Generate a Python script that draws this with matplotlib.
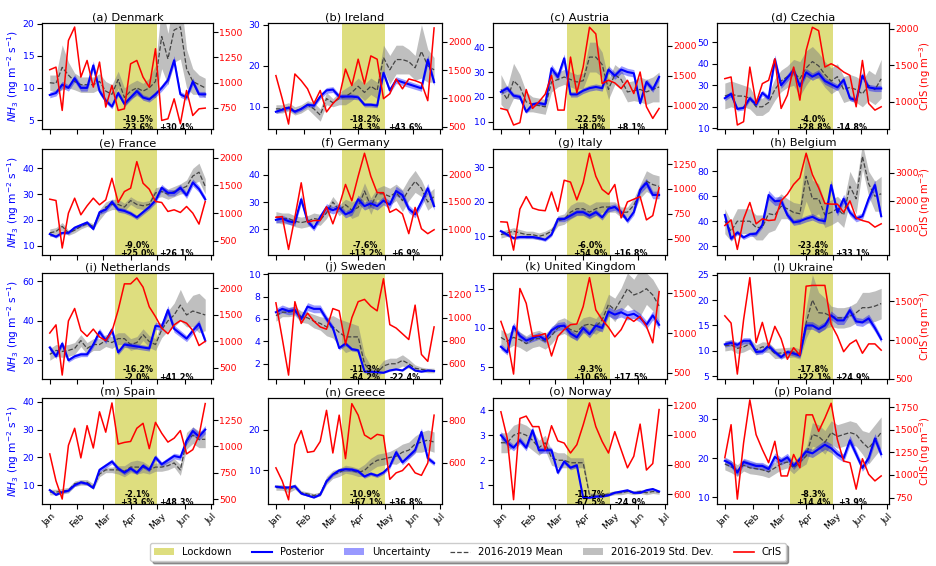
import numpy as np
import pandas as pd
import matplotlib
matplotlib.use('Agg')
import matplotlib.pyplot as plt
import matplotlib.dates as mdates
import matplotlib.transforms as mtransforms
from matplotlib.patches import Patch
from matplotlib.lines import Line2D

# weekly time axis, Jan-Jun 2020
weeks = pd.date_range('2020-01-01', periods=26, freq='7D')
lockdown_start = pd.Timestamp('2020-03-14')
lockdown_end = pd.Timestamp('2020-05-01')

countries = ['Denmark', 'Ireland', 'Austria', 'Czechia',
             'France', 'Germany', 'Italy', 'Belgium',
             'Netherlands', 'Sweden', 'United Kingdom', 'Ukraine',
             'Spain', 'Greece', 'Norway', 'Poland']
letters = 'abcdefghijklmnop'

# posterior NH3 emissions (ng m-2 s-1)
posterior = {
    'Denmark': [8.9, 9.2, 10.5, 10.0, 11.5, 10.0, 10.0, 13.5, 9.5, 8.0, 7.1, 9.2, 7.5, 8.5, 9.5, 8.5, 8.2, 9.0, 10.0, 11.2, 14.3, 9.0, 8.5, 11.0, 9.0, 9.0],
    'Ireland': [8.8, 9.3, 9.8, 8.8, 9.5, 10.5, 10.3, 12.5, 14.0, 14.2, 12.5, 12.5, 12.5, 12.3, 10.5, 10.5, 10.3, 18.3, 14.0, 16.5, 16.0, 15.5, 15.0, 14.5, 21.5, 16.0],
    'Austria': [22, 23.5, 20.5, 20, 14, 17, 17.5, 17, 31.5, 28, 35.5, 21, 21, 22.5, 23.5, 24, 23.5, 31, 28.5, 31, 30, 29.5, 17.5, 26, 23, 28],
    'Czechia': [24, 26, 19, 19.5, 24, 21, 26.5, 24, 42, 30, 33.5, 37, 29.5, 36, 34, 35.5, 32, 30.5, 29, 32.5, 24, 23, 34.5, 29, 28.5, 28.5],
    'France': [14.5, 13.5, 15, 15, 17, 18, 19, 16.5, 23, 24, 27, 24, 23.5, 22.5, 21, 23, 25, 27.5, 32.5, 30.5, 30.5, 32.5, 29.5, 34.5, 32, 28],
    'Germany': [23.5, 24, 23, 22.5, 31, 23, 20.5, 24.5, 28, 27, 28, 25.5, 26.5, 31, 28.5, 29.5, 28.5, 30.5, 29, 34, 32.5, 27.5, 25.5, 30, 35, 28.5],
    'Italy': [11.5, 10.5, 9.5, 9.8, 9.8, 9.8, 9.5, 9.0, 10.5, 15, 15, 16, 17, 17, 16, 17, 15.5, 18, 18.5, 17, 14.5, 17, 23.5, 25.5, 22, 22],
    'Belgium': [45, 26, 31, 27, 29.5, 30, 37, 61, 56, 56.5, 45, 39, 40, 42, 43.5, 41, 40, 69, 47, 58, 47, 42, 44, 58, 69, 44],
    'Netherlands': [26.5, 22, 28.5, 20, 22, 23, 23, 28, 34.5, 30, 35.5, 24, 28, 27.5, 27, 26.5, 26, 37.5, 37, 45.5, 36, 33.5, 31, 35, 38.5, 30],
    'Sweden': [6.6, 6.9, 6.7, 6.8, 6.0, 7.1, 6.9, 6.9, 6.0, 5.2, 3.4, 3.8, 3.3, 3.2, 1.3, 1.3, 1.25, 1.2, 1.4, 1.5, 1.4, 1.8, 1.4, 1.3, 1.4, 1.35],
    'United Kingdom': [7.6, 6.9, 10.2, 9.0, 8.4, 8.7, 9.0, 8.5, 9.7, 10.2, 10.3, 9.3, 8.8, 10.0, 9.2, 10.3, 10.0, 12.1, 11.7, 12.0, 11.6, 11.8, 11.3, 10.4, 11.6, 10.4],
    'Ukraine': [11.3, 11.6, 11.2, 12, 12, 9.8, 9.9, 11, 9.8, 8.8, 9.8, 9.5, 9.1, 15, 15, 14.3, 15, 17, 16, 16, 18, 15.8, 15.6, 16.4, 14.5, 12.3],
    'Spain': [8.2, 6.5, 7.5, 8, 10, 11, 10.5, 9, 15.5, 17, 18.5, 16, 14.5, 16, 14.5, 17, 15.5, 20, 17.5, 19, 20.5, 20, 26, 29.5, 27.5, 30],
    'Greece': [6, 5.8, 5.8, 6.1, 4.3, 3.8, 3.3, 4.0, 7.3, 9, 10, 10.3, 10.2, 9.8, 8.5, 9.2, 8.7, 9.5, 11, 14.5, 12, 13.5, 15, 19.5, 13, 11.8],
    'Norway': [3.0, 2.7, 2.5, 2.8, 2.5, 3.2, 2.4, 2.4, 2.4, 1.5, 1.95, 1.7, 1.8, 0.5, 0.5, 0.55, 0.55, 0.6, 0.7, 0.75, 0.8, 0.7, 0.7, 0.8, 0.85, 0.75],
    'Poland': [19.3, 18.5, 16.3, 19, 18.5, 18, 18, 17.2, 20.3, 19.2, 20.2, 18, 19.7, 21.7, 21.2, 22.3, 23.4, 22.5, 21, 20, 24.5, 21, 17.5, 20, 25, 21],
}

# relative posterior uncertainty per country
rel_unc = [0.05, 0.05, 0.05, 0.05, 0.04, 0.05, 0.05, 0.06, 0.05, 0.05, 0.05, 0.05, 0.05, 0.05, 0.05, 0.05]

# 2016-2019 mean and standard deviation
hist_mean = {
    'Denmark': [10.8, 10.7, 13.2, 12.0, 11.0, 10.5, 10.5, 10.5, 11.0, 9.5, 9.0, 11.3, 8.5, 9.5, 10.0, 9.5, 10.0, 11.0, 18.0, 14.5, 19.0, 19.5, 13.0, 11.0, 10.5, 10.0],
    'Ireland': [9.5, 9.5, 10.0, 9.0, 9.5, 10.5, 9.5, 8.0, 12.0, 11.0, 12.0, 12.5, 13.5, 15.0, 13.5, 15.0, 14.0, 22.0, 19.0, 21.5, 21.5, 21.0, 19.5, 23.5, 20.0, 19.0],
    'Austria': [23, 19, 26.5, 24, 18, 17, 16.5, 16, 26, 27, 28, 27, 26, 26.5, 36, 36, 33, 23, 29, 27, 22, 22.5, 23, 22, 23, 24],
    'Czechia': [25, 26, 25, 25, 24, 20, 20, 22, 28, 32, 34, 36, 33, 38, 41, 39, 35, 32, 34, 28, 29, 28, 26, 30, 28, 33],
    'France': [15, 15.5, 17.5, 15, 16, 17.5, 18.5, 17.5, 22, 25, 26, 26, 25, 27.5, 26, 25.5, 26, 30.5, 31, 30, 31, 32, 33, 37, 38.5, 33],
    'Germany': [24.5, 24, 24, 23, 22.5, 23, 24, 23.5, 26, 30, 27, 29, 27, 28, 34, 28.5, 33, 33, 32, 33.5, 30.5, 34.5, 37.5, 35, 30, 32],
    'Italy': [10.5, 11, 11.5, 11, 10.5, 10.5, 10, 10.5, 11.5, 14.5, 15, 17, 18, 18, 17, 18, 18.5, 18.5, 18.5, 17, 17, 19, 23, 26, 25, 24.5],
    'Belgium': [40, 32, 40, 40, 40, 35, 35, 46, 45, 52, 50, 47, 46, 76, 58, 58, 45, 47, 50, 45, 68, 58, 92, 70, 60, 62],
    'Netherlands': [23, 25, 24.5, 25, 26, 30, 26, 28, 28, 30, 29, 31, 31, 28, 29, 33, 29.5, 28, 35.5, 40, 43, 48, 43, 45, 44, 43],
    'Sweden': [6.3, 6.6, 6.6, 6.7, 6.2, 6.1, 5.8, 5.6, 5.3, 5.3, 4.8, 4.4, 4.4, 4.4, 2.0, 1.3, 1.2, 1.8, 2.0, 2.0, 2.3, 2.0, 1.6, 1.5, 1.4, 1.4],
    'United Kingdom': [8.8, 8.3, 8.8, 8.5, 8.0, 8.5, 8.7, 8.3, 9.0, 10.0, 10.3, 9.8, 9.5, 10.3, 10.5, 10.2, 11.0, 13.0, 12.3, 13.6, 15.0, 14.2, 14.5, 15.0, 14.2, 12.8],
    'Ukraine': [11, 11.2, 10.5, 10.8, 11.4, 10.2, 10.8, 10.7, 9.5, 9.6, 9.7, 9.8, 9.4, 15.5, 20, 17.5, 17.4, 16.8, 16.5, 16.5, 16.8, 17.5, 18.5, 18.5, 18.8, 19.3],
    'Spain': [7.5, 7.5, 7.8, 8.2, 10.5, 11, 11, 9.5, 14, 15.5, 15.5, 15.5, 15, 16.5, 16.5, 16.5, 15.5, 16.5, 16.5, 17, 18, 15.5, 26, 28, 26.5, 26.5],
    'Greece': [5.8, 5.8, 5.2, 6, 4.5, 4.2, 3.8, 4.2, 7.5, 9, 9.5, 10.3, 10, 9.5, 10, 11.5, 12.5, 12.8, 13.2, 13.5, 14.5, 15, 16.5, 17, 17.5, 17],
    'Norway': [2.7, 2.7, 3.0, 3.1, 3.0, 2.8, 2.5, 2.7, 2.1, 2.0, 2.0, 1.9, 1.9, 1.9, 0.6, 0.6, 0.6, 0.65, 0.7, 0.7, 0.75, 0.7, 0.75, 0.7, 0.75, 0.72],
    'Poland': [18.5, 17.8, 16.8, 18.2, 17.5, 17.3, 17, 16.5, 17.5, 18.5, 19, 17.5, 19, 20.5, 26, 25.5, 24, 26.5, 25.5, 26, 26.5, 26, 24, 22.5, 24.5, 26.5],
}

hist_std = {
    'Denmark': [1.2, 1.3, 3.5, 2.0, 1.3, 1.2, 1.2, 1.2, 1.2, 1.5, 1.5, 1.3, 1.5, 1.2, 1.2, 1.2, 1.5, 2.5, 5.0, 4.0, 5.0, 5.0, 3.0, 2.0, 1.5, 1.5],
    'Ireland': [1.0, 1.0, 1.0, 1.0, 1.0, 1.0, 1.5, 1.5, 1.5, 1.0, 1.5, 2.0, 2.0, 2.0, 2.0, 2.0, 2.0, 3.0, 3.5, 3.5, 3.5, 3.0, 3.0, 6.5, 4.0, 3.0],
    'Austria': [6, 5, 7, 5, 4, 3, 3, 3, 4, 3, 3, 3, 3, 3, 6, 6, 5, 4, 4, 4, 4, 4, 5, 5, 5, 6],
    'Czechia': [6, 6, 6, 5, 5, 4, 4, 4, 5, 5, 5, 6, 8, 8, 7, 6, 6, 6, 6, 6, 6, 6, 6, 7, 7, 9],
    'France': [1.5, 1.5, 1.5, 1, 1, 1, 1, 1, 2, 2, 2, 2, 1.5, 1.5, 1.5, 1.5, 1.5, 2, 2, 2, 2, 2, 2.5, 3, 3.5, 3],
    'Germany': [2, 2, 2, 2, 2, 2, 2, 2, 2, 2, 2, 2, 3, 3, 3, 3, 2, 3, 3, 3, 4, 4, 4, 3, 3, 3],
    'Italy': [1, 1, 1, 1, 1, 1, 1, 1, 1, 1.5, 1.5, 2, 2, 2, 2, 2, 1.5, 1.5, 1.5, 1.5, 1.5, 2, 2, 3, 3, 3],
    'Belgium': [10, 8, 10, 10, 10, 10, 10, 15, 12, 10, 8, 8, 8, 20, 15, 12, 10, 10, 10, 10, 12, 12, 10, 10, 12, 14],
    'Netherlands': [3, 3, 3, 3, 3, 3, 3, 3, 3, 3, 3, 3, 3, 3, 3, 3, 3, 3, 4, 5, 6, 8, 6, 8, 10, 8],
    'Sweden': [0.5, 0.4, 0.4, 0.4, 0.5, 0.5, 0.6, 0.6, 0.8, 1.0, 1.2, 1.4, 1.2, 1.0, 0.8, 0.5, 0.4, 0.5, 0.5, 0.5, 0.5, 0.4, 0.3, 0.2, 0.2, 0.2],
    'United Kingdom': [1, 1, 1, 1, 1, 1, 1, 1, 1, 1, 1, 1, 1, 1, 1, 1, 1.2, 1.3, 1.5, 1.5, 2, 2, 3, 2, 2, 2],
    'Ukraine': [1, 1, 1, 1, 1, 1, 1, 1, 1, 1, 1, 1, 1, 3, 5, 4, 3, 2, 2, 2, 2, 2, 3, 3, 3, 3],
    'Spain': [1, 1, 1, 1, 1, 1, 1, 1, 1, 1, 1, 1.5, 2, 2, 2.5, 2, 1.5, 1.5, 1.5, 1.5, 1.5, 2, 3, 3, 3, 3],
    'Greece': [0.7, 0.7, 0.7, 0.7, 0.5, 0.5, 0.5, 0.5, 1, 1, 1, 1, 1, 1, 1.5, 1.5, 1.5, 1.5, 1.5, 2, 2, 2, 2, 2.5, 2.5, 2.5],
    'Norway': [0.4, 0.4, 0.4, 0.4, 0.4, 0.4, 0.3, 0.3, 0.3, 0.3, 0.3, 0.2, 0.2, 0.2, 0.1, 0.08, 0.08, 0.08, 0.08, 0.08, 0.08, 0.08, 0.08, 0.08, 0.08, 0.08],
    'Poland': [1.5, 1.5, 1.5, 1.5, 1.5, 1.5, 1.5, 1.5, 1.5, 1.5, 1.5, 1.5, 1.5, 2, 3, 3, 3, 3, 3, 3, 3, 3, 3, 4, 4, 4],
}

# CrIS NH3 columns (ng m-3)
cris = {
    'Denmark': [1127, 1153, 724, 1417, 1550, 1054, 1219, 955, 1203, 757, 972, 724, 740, 1186, 1219, 1054, 955, 1335, 625, 641, 839, 592, 922, 674, 740, 747],
    'Ireland': [1402, 995, 547, 1431, 1314, 1169, 908, 1140, 762, 908, 1024, 1518, 1227, 1692, 1256, 1750, 1692, 995, 1082, 1343, 1169, 1343, 1314, 1270, 960, 2244],
    'Austria': [955, 928, 680, 719, 1269, 955, 1065, 1192, 1505, 928, 928, 1808, 1214, 1643, 2303, 2193, 1368, 1423, 1379, 1285, 1423, 1203, 1560, 983, 790, 955],
    'Czechia': [1318, 1341, 682, 727, 1477, 977, 1250, 1295, 1591, 909, 1091, 1477, 1023, 1705, 2023, 1977, 1477, 1523, 1477, 1409, 1364, 932, 1568, 977, 886, 932],
    'France': [1250, 1226, 368, 998, 1268, 968, 1130, 1268, 1148, 1238, 1628, 1190, 1388, 1448, 1928, 1538, 1430, 1208, 1190, 1028, 1058, 1010, 1118, 998, 800, 1208],
    'Germany': [1220, 1232, 632, 1220, 1850, 1130, 1160, 1160, 1412, 1100, 1430, 1820, 1520, 1970, 2390, 1970, 1670, 1670, 1310, 1370, 1280, 920, 1400, 1010, 920, 992],
    'Italy': [670, 666, 385, 798, 923, 808, 788, 781, 970, 775, 1088, 1069, 890, 1062, 1359, 1128, 996, 946, 1045, 709, 870, 897, 923, 689, 732, 1012],
    'Belgium': [1118, 1318, 260, 1354, 1942, 1177, 1354, 1295, 1318, 2000, 2235, 2588, 2824, 3706, 2941, 2470, 1906, 1883, 1883, 1589, 2000, 1389, 1295, 1236, 1059, 1177],
    'Netherlands': [1155, 1309, 365, 1383, 1617, 1204, 1093, 1229, 1081, 1013, 1186, 1587, 2080, 2080, 2191, 2018, 1648, 1463, 1247, 1142, 1309, 1389, 1340, 1204, 920, 1000],
    'Sweden': [1130, 820, 500, 1140, 950, 1040, 970, 920, 900, 1080, 1060, 770, 1000, 1140, 1160, 1100, 1060, 1340, 940, 910, 860, 810, 1110, 680, 620, 920],
    'United Kingdom': [1147, 919, 483, 1562, 1375, 960, 969, 994, 711, 960, 1043, 1106, 1114, 1334, 1699, 1292, 1168, 1073, 952, 1043, 1201, 1147, 1210, 1085, 877, 1521],
    'Ukraine': [1310, 1217, 563, 1259, 1800, 966, 1226, 922, 1175, 1015, 753, 901, 804, 1690, 1700, 1700, 1700, 1200, 1050, 850, 950, 1000, 830, 950, 950, 870],
    'Spain': [929, 673, 501, 1010, 1172, 891, 1197, 985, 1328, 1135, 1412, 1022, 1038, 1047, 1172, 1219, 979, 1228, 1125, 1041, 1078, 1150, 929, 969, 1103, 1406],
    'Greece': [575, 512, 422, 685, 753, 649, 654, 701, 850, 646, 827, 619, 882, 827, 732, 713, 735, 729, 520, 551, 562, 595, 551, 539, 598, 827],
    'Norway': [1156, 978, 563, 1111, 1127, 1056, 1056, 900, 1062, 960, 945, 878, 934, 1067, 1216, 1056, 956, 878, 1022, 900, 778, 856, 1073, 763, 807, 1171],
    'Poland': [1190, 1555, 733, 1354, 1829, 1445, 1281, 1135, 1372, 989, 989, 1226, 1080, 1664, 1664, 1482, 1628, 1792, 1390, 1153, 1135, 843, 1179, 1007, 934, 989],
}

# percentage changes: lockdown vs. mean, lockdown vs. CrIS, after lockdown
changes = {
    'Denmark': ('-19.5%', '-23.6%', '+30.4%'),
    'Ireland': ('-18.2%', '+4.3%', '+43.6%'),
    'Austria': ('-22.5%', '+8.0%', '+8.1%'),
    'Czechia': ('-4.0%', '+28.8%', '-14.8%'),
    'France': ('-9.0%', '+25.0%', '+26.1%'),
    'Germany': ('-7.6%', '+13.2%', '+6.9%'),
    'Italy': ('-6.0%', '+54.9%', '+16.8%'),
    'Belgium': ('-23.4%', '+2.8%', '+33.1%'),
    'Netherlands': ('-16.2%', '-2.0%', '+41.2%'),
    'Sweden': ('-11.3%', '-64.2%', '-22.4%'),
    'United Kingdom': ('-9.3%', '+10.6%', '+17.5%'),
    'Ukraine': ('-17.8%', '+22.1%', '+24.9%'),
    'Spain': ('-2.1%', '+33.6%', '+48.3%'),
    'Greece': ('-10.9%', '+67.1%', '+36.8%'),
    'Norway': ('-11.7%', '-67.5%', '-24.9%'),
    'Poland': ('-8.3%', '+14.4%', '+3.9%'),
}

nh3_lims = [(3.6, 20.1), (4.6, 30.4), (7.1, 49.7), (9.7, 58.9),
            (6.4, 47.5), (10.7, 49.3), (4.6, 35.3), (12.9, 97.9),
            (10.5, 64.3), (0.64, 10.1), (3.5, 17.0), (4.5, 25.3),
            (3.2, 41.4), (1.7, 27.9), (0.25, 4.49), (8.3, 35.3)]
cris_lims = [(540, 1590), (460, 2331), (614, 2374), (627, 2082),
             (242, 2156), (530, 2468), (336, 1402), (60, 3858),
             (291, 2284), (466, 1390), (421, 1757), (500, 1859),
             (454, 1459), (402, 909), (534, 1249), (679, 1850)]

W, H = 936, 566
col_left = [42, 268, 493, 717]
col_width = [171, 174, 174, 172]
row_top = [23, 149, 273, 398]
ax_h = 106
tick_fs = 6.7

fig = plt.figure(figsize=(W / 100, H / 100), dpi=100)

for k, name in enumerate(countries):
    r, c = divmod(k, 4)
    ax = fig.add_axes([col_left[c] / W, 1 - (row_top[r] + ax_h) / H, col_width[c] / W, ax_h / H])
    post = np.array(posterior[name])
    m = np.array(hist_mean[name])
    s = np.array(hist_std[name])
    u = rel_unc[k]

    ax.axvspan(lockdown_start, lockdown_end, color='y', alpha=0.5, lw=0)
    ax.fill_between(weeks, m - s, m + s, color='gray', alpha=0.5, lw=0)
    ax.plot(weeks, m, '--', color='#444444', lw=0.9)
    ax.fill_between(weeks, post * (1 - u), post * (1 + u), color='b', alpha=0.4, lw=0)
    ax.plot(weeks, post, color='b', lw=1.5)
    ax.set_ylim(*nh3_lims[k])
    ax.tick_params(axis='y', labelcolor='b', labelsize=tick_fs, pad=2)
    ax.set_title(f'({letters[k]}) {name}', fontsize=8.2, pad=2)

    ax.xaxis.set_major_locator(mdates.MonthLocator())
    ax.xaxis.set_major_formatter(mdates.DateFormatter('%b'))
    if r == 3:
        ax.tick_params(axis='x', labelsize=tick_fs, labelrotation=45, pad=2)
    else:
        ax.tick_params(axis='x', labelbottom=False)

    trans = mtransforms.blended_transform_factory(ax.transData, ax.transAxes)
    a, b, after = changes[name]
    ax.text(pd.Timestamp('2020-04-09'), -0.03, f'{a}\n{b}', transform=trans, ha='center', va='bottom',
            fontsize=5.8, fontweight='bold', linespacing=0.9)
    ax.text(pd.Timestamp('2020-05-23'), -0.03, after, transform=trans, ha='center', va='bottom',
            fontsize=5.8, fontweight='bold')

    if c == 0:
        ax.set_ylabel(r'$NH_3$ (ng m$^{-2}$ s$^{-1}$)', color='b', fontsize=7.6, labelpad=1)

    ax2 = ax.twinx()
    ax2.plot(weeks, cris[name], color='r', lw=1.1)
    ax2.set_ylim(*cris_lims[k])
    ax2.tick_params(axis='y', labelcolor='r', labelsize=tick_fs, pad=1)
    if c == 3:
        ax2.set_ylabel(r'CrIS (ng m$^{-3}$)', color='r', fontsize=7.3)
        ax2.yaxis.set_label_coords(1.163, 0.5)

handles = [
    Patch(facecolor='y', alpha=0.5, label='Lockdown'),
    Line2D([], [], color='b', lw=1.5, label='Posterior'),
    Patch(facecolor='b', alpha=0.4, label='Uncertainty'),
    Line2D([], [], color='#444444', ls='--', lw=0.9, label='2016-2019 Mean'),
    Patch(facecolor='gray', alpha=0.5, label='2016-2019 Std. Dev.'),
    Line2D([], [], color='r', lw=1.2, label='CrIS'),
]
fig.legend(handles=handles, loc='center', bbox_to_anchor=(0.5, 1 - 552 / H), ncol=6,
           fontsize=7.2, shadow=True, columnspacing=2.0)

fig.savefig('out.png', dpi=100)
